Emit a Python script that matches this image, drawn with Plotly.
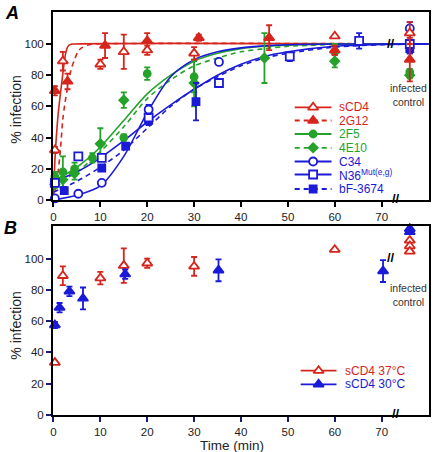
import plotly.graph_objects as go

RED = '#d6251c'
GREEN = '#25a22a'
BLUE = '#1a1ad8'

# ---------------- Panel A : measured points ----------------
scd4_t = [0.3, 2, 10, 15, 20, 30, 60, 76]
scd4_y = [32, 89, 87, 95, 96, 94, 105, 107]
scd4_e = [2, 6, 3, 11, 3, 4, 0, 7]

g12_t = [0.3, 3, 11, 20, 31, 46, 60, 76]
g12_y = [70, 76, 99, 102, 104, 104, 96, 90]
g12_e = [3, 5, 8, 5, 2, 8, 3, 14]

f5_t = [0.3, 2, 4.5, 8.3, 15, 20, 30, 60, 76]
f5_y = [15, 18, 20, 27, 40, 81, 79, 95, 82]
f5_e = [3, 10, 4, 3, 2, 4, 10, 5, 2]

e10_t = [0.3, 2, 4.5, 10, 15, 30, 45, 60, 76]
e10_y = [10, 13, 17, 36, 64, 75, 91, 89, 80]
e10_e = [2, 5, 4, 10, 5, 15, 16, 4, 2]

c34_t = [0.3, 5.3, 10.3, 20.3, 35.3, 76]
c34_y = [1, 4, 11, 58, 88.5, 110]
c34_e = [1, 1, 1, 3, 1, 4]

n36_t = [0.3, 5.3, 10.3, 20.3, 35.3, 50.4, 65.2, 76]
n36_y = [11, 28, 27, 53, 75, 92, 102, 100]
n36_e = [2, 2, 2, 4, 2, 3, 5, 6]

bf_t = [2.3, 10.3, 15.4, 20.3, 30.4, 76]
bf_y = [6, 20.5, 34.5, 51, 63, 97]
bf_e = [2, 2, 2, 3, 12, 3]

# ---------------- Panel A : fitted curves ----------------
scd4_fit_t = [0, 0.25, 0.6, 1, 1.4, 1.8, 2.2, 2.6, 3, 3.5, 4.5, 80]
scd4_fit_y = [0, 22, 40, 55, 66, 76, 86, 94, 98, 99.6, 100, 100]
g12_fit_t = [0, 0.5, 1, 1.5, 2, 2.5, 3, 3.75, 4.5, 5.2, 6, 7.6, 9, 80]
g12_fit_y = [0, 8, 18, 33, 52, 63, 72, 83.5, 90, 95, 97.5, 99.5, 100, 100]
slow_fit_t = [0, 5, 10, 15, 20, 25, 30, 35, 40, 45, 50, 60, 70, 80]
f5_fit_y = [12, 21, 34, 51, 68, 80, 89, 94, 97, 98.5, 99.3, 100, 100, 100]
e10_fit_y = [9, 18, 31, 47, 65, 77, 86, 91, 95, 97, 98.5, 99.7, 100, 100]
c34_fit_y = [0, 3, 9, 28, 56, 79, 90, 95, 97.5, 98.8, 99.5, 100, 100, 100]
n36_fit_y = [12, 18, 27, 38, 50, 61, 71, 80, 87, 92, 95, 98.5, 99.7, 100]
bf_fit_y = [5, 12, 21, 32, 46, 60, 71, 79, 86, 91, 94, 98, 99.5, 100]

# ---------------- Panel B ----------------
b37_t = [0.3, 2, 10, 15, 20, 30, 60, 76, 76, 76]
b37_y = [33.5, 89, 87.5, 95.5, 97, 95, 105.7, 111.6, 108, 104.6]
b37_e = [1, 6, 4, 11, 3, 6, 0, 0, 0, 0]
b30_t = [0.3, 1.3, 3.4, 6.3, 15.3, 35.2, 70.3, 76, 76]
b30_y = [57.5, 68.6, 79, 74.5, 90, 92.5, 92, 119, 117]
b30_e = [2, 3, 3, 7, 3, 7, 7, 0, 0]

x_ticks = [0, 10, 20, 30, 40, 50, 60, 70]
y_ticks = [0, 20, 40, 60, 80, 100]

DASH = '5px,4px'
W, H = 434, 452
ML, MR, MT, MB = 53, 3, 12, 37
PW, PH = W - ML - MR, H - MT - MB


def px(x):
    return (x - ML) / PW


def py(y):
    return (H - MB - y) / PH


def marker(sym, color, size, filled):
    return dict(symbol=sym, size=size, color=color if filled else 'white',
                line=dict(width=1.8, color=color))


fig = go.Figure()

# fitted curves
curves = [
    (scd4_fit_t, scd4_fit_y, RED, 'solid'),
    (g12_fit_t, g12_fit_y, RED, DASH),
    (slow_fit_t, f5_fit_y, GREEN, 'solid'),
    (slow_fit_t, e10_fit_y, GREEN, DASH),
    (slow_fit_t, c34_fit_y, BLUE, 'solid'),
    (slow_fit_t, n36_fit_y, BLUE, 'solid'),
    (slow_fit_t, bf_fit_y, BLUE, DASH),
]
for t, y, c, d in curves:
    fig.add_trace(go.Scatter(x=t, y=y, mode='lines', showlegend=False,
                             line=dict(color=c, width=1.6, dash=d, shape='spline', smoothing=0.8),
                             xaxis='x', yaxis='y', hoverinfo='skip'))

series_a = [
    (f5_t, f5_y, f5_e, GREEN, 'circle', 7, True),
    (e10_t, e10_y, e10_e, GREEN, 'diamond', 7, True),
    (bf_t, bf_y, bf_e, BLUE, 'square', 7, True),
    (n36_t, n36_y, n36_e, BLUE, 'square', 8, False),
    (c34_t, c34_y, c34_e, BLUE, 'circle', 8, False),
    (g12_t, g12_y, g12_e, RED, 'triangle-up', 9, True),
    (scd4_t, scd4_y, scd4_e, RED, 'triangle-up', 9, False),
]
for t, y, e, c, s, sz, f in series_a:
    fig.add_trace(go.Scatter(x=t, y=y, mode='markers', showlegend=False,
                             marker=marker(s, c, sz, f),
                             error_y=dict(type='data', array=e, color=c, thickness=1.8, width=3),
                             xaxis='x', yaxis='y', cliponaxis=False))

series_b = [
    (b37_t, b37_y, b37_e, RED, 'triangle-up', 9, False),
    (b30_t, b30_y, b30_e, BLUE, 'triangle-up', 9, True),
]
for t, y, e, c, s, sz, f in series_b:
    fig.add_trace(go.Scatter(x=t, y=y, mode='markers', showlegend=False,
                             marker=marker(s, c, sz, f),
                             error_y=dict(type='data', array=e, color=c, thickness=1.8, width=3),
                             xaxis='x2', yaxis='y2', cliponaxis=False))

# ---------------- custom legends (pixel overlay axes) ----------------
leg_a = [
    ('sCD4', RED, 'solid', 'triangle-up', False, 9),
    ('2G12', RED, DASH, 'triangle-up', True, 9),
    ('2F5', GREEN, 'solid', 'circle', True, 7),
    ('4E10', GREEN, DASH, 'diamond', True, 7),
    ('C34', BLUE, 'solid', 'circle', False, 8),
    ('N36<sup>Mut(e,g)</sup>', BLUE, 'solid', 'square', False, 8),
    ('bF-3674', BLUE, DASH, 'square', True, 7),
]
leg_b = [
    ('sCD4 37°C', RED, 'solid', 'triangle-up', False, 9),
    ('sCD4 30°C', BLUE, 'solid', 'triangle-up', True, 9),
]
annotations = []


def add_legend(items, x0, x1, xt, rows):
    for (name, c, d, s, f, sz), yy in zip(items, rows):
        fig.add_trace(go.Scatter(x=[x0, x1], y=[yy, yy], mode='lines', showlegend=False,
                                 line=dict(color=c, width=1.8, dash=d),
                                 xaxis='x3', yaxis='y3', hoverinfo='skip'))
        fig.add_trace(go.Scatter(x=[(x0 + x1) / 2], y=[yy], mode='markers', showlegend=False,
                                 marker=marker(s, c, sz, f),
                                 xaxis='x3', yaxis='y3', hoverinfo='skip'))
        annotations.append(dict(x=px(xt), y=py(yy), xref='paper', yref='paper', text=name,
                                showarrow=False, xanchor='left', yanchor='middle',
                                font=dict(size=12, color=c)))


add_legend(leg_a, 296, 333, 339, [107.3, 120.5, 134, 147.8, 161.5, 174.5, 189])
add_legend(leg_b, 302, 338, 345, [370.7, 384.3])

font_family = 'Liberation Sans, Arial, sans-serif'


def note(x, y, text, size, color, angle=0):
    return dict(x=px(x), y=py(y), xref='paper', yref='paper', text=text, textangle=angle,
                showarrow=False, xanchor='center', yanchor='middle',
                font=dict(size=size, color=color))


annotations += [
    note(12, 13, '<b><i>A</i></b>', 18, 'black'),
    note(10, 228, '<b><i>B</i></b>', 18, 'black'),
    note(15.5, 110, '% infection', 14, '#222', -90),
    note(15.5, 326, '% infection', 14, '#222', -90),
    note(233, 445.5, 'Time (min)', 13.5, '#222'),
    note(410, 95, 'infected<br>control', 10.5, '#333'),
    note(410, 295, 'infected<br>control', 10.5, '#333'),
]
# axis break marks
for (bx, by, xr, yr) in [(72, 100, 'x', 'y'), (73, 1, 'x', 'y'), (72, 100.5, 'x2', 'y2'), (73, 1, 'x2', 'y2')]:
    annotations.append(dict(x=bx, y=by, xref=xr, yref=yr, text='<b>//</b>', showarrow=False,
                            xanchor='center', yanchor='middle',
                            font=dict(size=13, color='black')))

axis_common = dict(showline=True, linewidth=2, linecolor='black', mirror=True, showgrid=False,
                   zeroline=False, ticks='outside', ticklen=5, tickwidth=1.5,
                   tickfont=dict(size=11.5, color='#222'))

fig.update_layout(
    width=W, height=H, margin=dict(l=ML, r=MR, t=MT, b=MB),
    paper_bgcolor='white', plot_bgcolor='rgba(0,0,0,0)',
    font=dict(family=font_family),
    showlegend=False,
    xaxis=dict(domain=[0, 1], range=[-0.1, 80.1], anchor='y', tickvals=x_ticks, tickcolor='black',
               **axis_common),
    yaxis=dict(domain=[py(200), 1], range=[0, 120.5], anchor='x', tickvals=y_ticks, tickcolor='black',
               **axis_common),
    xaxis2=dict(domain=[0, 1], range=[-0.1, 80.1], anchor='y2', tickvals=x_ticks, tickcolor='#1a1a70',
                **axis_common),
    yaxis2=dict(domain=[0, py(226)], range=[0, 120.8], anchor='x2', tickvals=y_ticks, tickcolor='#1a1a70',
                **axis_common),
    xaxis3=dict(domain=[0, 1], range=[ML, W - MR], anchor='y3', visible=False, fixedrange=True),
    yaxis3=dict(domain=[0, 1], range=[H - MB, MT], anchor='x3', visible=False, fixedrange=True),
    annotations=annotations,
)

fig.write_html("out.html", config={'displayModeBar': False},
               post_script="document.body.style.margin='0px';")
